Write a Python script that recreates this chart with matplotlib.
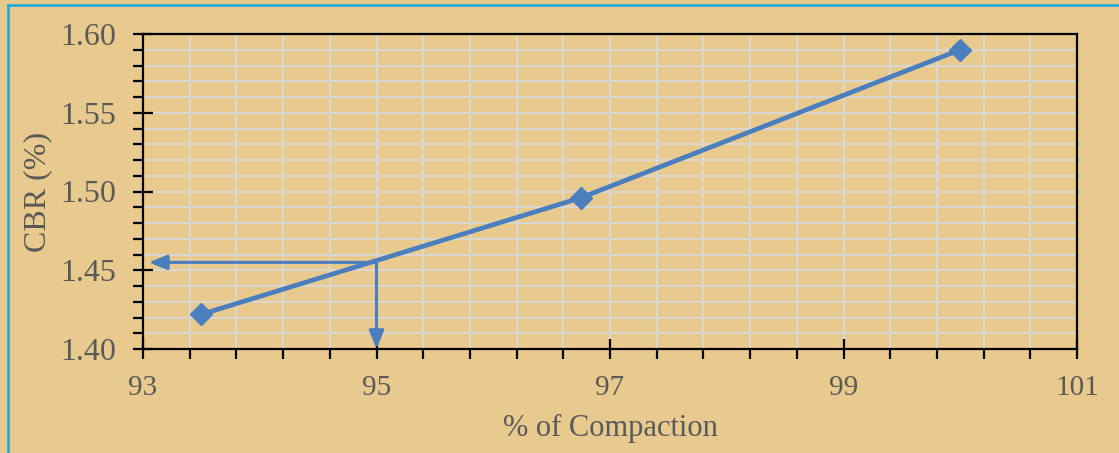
import numpy as np
import matplotlib.pyplot as plt
from matplotlib.lines import Line2D

# data
compaction = [93.5, 96.75, 100.0]
cbr = [1.422, 1.496, 1.590]

target_compaction = 95.0
target_cbr = 1.455

x_ticks = [93, 95, 97, 99, 101]
y_ticks = [1.40, 1.45, 1.50, 1.55, 1.60]

blue = "#4A7EBF"
text_col = "#595959"
bg = "#E9CA8E"

plt.rcParams["font.family"] = ["Liberation Serif", "DejaVu Serif"]

fig = plt.figure(figsize=(11.19, 4.53), dpi=100, facecolor=bg)
ax = fig.add_axes([143 / 1119, 1 - 349 / 453, 934 / 1119, 315 / 453])
ax.set_facecolor("none")

# blue frame along top and left edge
fx, fy = 8 / 1119, 1 - 4.5 / 453
fig.lines.append(Line2D([fx, 1], [fy, fy], transform=fig.transFigure,
                        color="#14A7E0", linewidth=1.8))
fig.lines.append(Line2D([fx, fx], [0, fy], transform=fig.transFigure,
                        color="#14A7E0", linewidth=1.8))

ax.set_xlim(93, 101)
ax.set_ylim(1.40, 1.60)
ax.set_xticks(x_ticks)
ax.set_xticks(np.linspace(93, 101, 21), minor=True)
ax.set_yticks(y_ticks)
ax.set_yticks(np.linspace(1.40, 1.60, 21), minor=True)
ax.set_yticklabels([f"{v:.2f}" for v in y_ticks])

ax.grid(which="both", color="#D9D9D9", linewidth=1.3, zorder=0)
ax.set_axisbelow(True)

for s in ax.spines.values():
    s.set_color("black")
    s.set_linewidth(1.6)

ax.tick_params(which="major", direction="inout", length=14, width=1.6,
               labelsize=21, labelcolor=text_col)
ax.tick_params(which="minor", direction="out", length=7, width=1.6)
ax.tick_params(axis="x", pad=12)
ax.tick_params(axis="y", pad=12, labelsize=23)

ax.plot(compaction, cbr, color=blue, linewidth=3.4, marker="D",
        markersize=11, zorder=4, clip_on=False)

# reading arrows
arrow = dict(arrowstyle="-|>,head_length=1.1,head_width=0.45",
             color=blue, linewidth=2.2, shrinkA=0, shrinkB=0)
ax.annotate("", xy=(93.05, target_cbr), xytext=(target_compaction, target_cbr),
            arrowprops=arrow, zorder=3)
ax.annotate("", xy=(target_compaction, 1.40), xytext=(target_compaction, target_cbr),
            arrowprops=arrow, zorder=3)

ax.set_xlabel("% of Compaction", fontsize=22, color=text_col, labelpad=9)
ax.set_ylabel("CBR (%)", fontsize=23, color=text_col, labelpad=6)

fig.savefig("out.png", dpi=100, facecolor=bg)
